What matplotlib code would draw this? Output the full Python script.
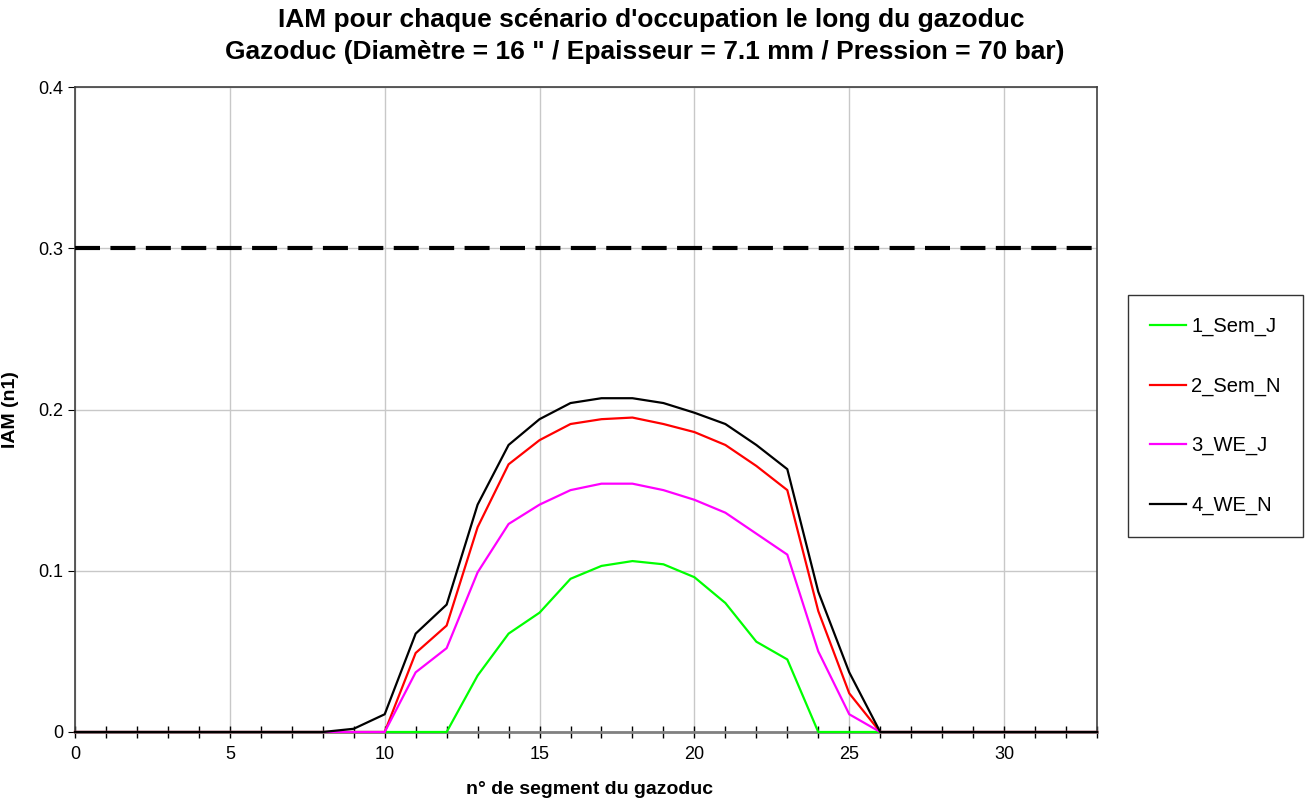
import numpy as np
import matplotlib.pyplot as plt
from matplotlib.lines import Line2D

plt.rcParams['font.family'] = ['Liberation Sans', 'DejaVu Sans']

segments = np.arange(0, 34)
sem_j = [0, 0, 0, 0, 0, 0, 0, 0, 0, 0, 0, 0, 0, 0.035, 0.061, 0.074, 0.095, 0.103, 0.106, 0.104,
         0.096, 0.080, 0.056, 0.045, 0, 0, 0, 0, 0, 0, 0, 0, 0, 0]
sem_n = [0, 0, 0, 0, 0, 0, 0, 0, 0, 0, 0, 0.049, 0.066, 0.127, 0.166, 0.181, 0.191, 0.194, 0.195, 0.191,
         0.186, 0.178, 0.165, 0.150, 0.075, 0.024, 0, 0, 0, 0, 0, 0, 0, 0]
we_j = [0, 0, 0, 0, 0, 0, 0, 0, 0, 0, 0, 0.037, 0.052, 0.099, 0.129, 0.141, 0.150, 0.154, 0.154, 0.150,
        0.144, 0.136, 0.123, 0.110, 0.050, 0.011, 0, 0, 0, 0, 0, 0, 0, 0]
we_n = [0, 0, 0, 0, 0, 0, 0, 0, 0, 0.002, 0.011, 0.061, 0.079, 0.141, 0.178, 0.194, 0.204, 0.207, 0.207, 0.204,
        0.198, 0.191, 0.178, 0.163, 0.087, 0.037, 0, 0, 0, 0, 0, 0, 0, 0]
seuil = 0.3
noms = ["1_Sem_J", "2_Sem_N", "3_WE_J", "4_WE_N"]
couleurs = ["#00ff00", "#ff0000", "#ff00ff", "#000000"]

fig = plt.figure(figsize=(13.14, 8), dpi=100)
ax = fig.add_axes([75 / 1314, 68 / 800, 1022 / 1314, 645 / 800])

ax.axhline(seuil, color="black", lw=3, dashes=(6, 2.5), zorder=3)
for serie, nom, c in zip([sem_j, sem_n, we_j, we_n], noms, couleurs):
    ax.plot(segments, serie, color=c, lw=1.6, label=nom, zorder=4, clip_on=False)

ax.set_xlim(0, 33)
ax.set_ylim(0, 0.4)
ax.set_xticks(np.arange(0, 31, 5))
ax.set_xticks(np.arange(0, 34, 1), minor=True)
ax.set_yticks([0, 0.1, 0.2, 0.3, 0.4])
ax.set_yticklabels(["0", "0.1", "0.2", "0.3", "0.4"])
ax.grid(True, which="major", color="#c8c8c8", lw=1)
ax.tick_params(axis="x", which="both", direction="inout", length=8, width=1, labelsize=13, pad=6)
ax.tick_params(axis="y", direction="out", length=5, labelsize=13)
for s in ax.spines.values():
    s.set_color("#404040")
    s.set_linewidth(1.2)
ax.spines["bottom"].set_linewidth(2)
ax.spines["bottom"].set_color("#808080")

ax.set_ylabel("IAM (n1)", fontsize=14, fontweight="bold", labelpad=14)
fig.text(590 / 1314, 1 - 789 / 800, "n° de segment du gazoduc",
         fontsize=14, fontweight="bold", ha="center", va="center")
fig.text(0.496, 1 - 20 / 800, "IAM pour chaque scénario d'occupation le long du gazoduc",
         fontsize=19, fontweight="bold", ha="center", va="center")
fig.text(0.491, 1 - 52 / 800, "Gazoduc (Diamètre = 16 \" / Epaisseur = 7.1 mm / Pression = 70 bar)",
         fontsize=19, fontweight="bold", ha="center", va="center")

handles = [Line2D([], [], color=c, lw=1.6) for c in couleurs]
leg = fig.legend(handles, noms, loc="upper left", bbox_to_anchor=(1128 / 1314, 1 - 295 / 800),
                 fontsize=14.5, frameon=True, fancybox=False, edgecolor="black",
                 handlelength=1.8, handletextpad=0.25, labelspacing=2.0,
                 borderpad=1.1, borderaxespad=0)
leg.get_frame().set_linewidth(1)

fig.savefig("out.png", dpi=100)
